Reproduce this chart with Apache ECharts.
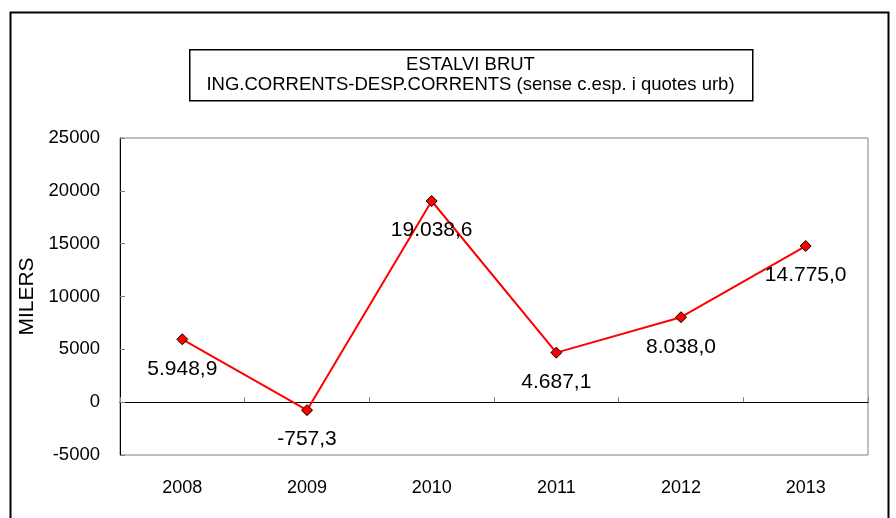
<!DOCTYPE html>
<html><head><meta charset="utf-8">
<script src="https://cdn.jsdelivr.net/npm/echarts@6/dist/echarts.min.js"></script>
<style>html,body{margin:0;padding:0;background:#fff}#c{width:896px;height:518px}</style>
</head><body><div id="c"></div>
<script>
var categories = ['2008','2009','2010','2011','2012','2013'];
var values = [5948.9, -757.3, 19038.6, 4687.1, 8038.0, 14775.0];
var yTicks = [-5000, 0, 5000, 10000, 15000, 20000, 25000];
var titleLines = ['ESTALVI BRUT', 'ING.CORRENTS-DESP.CORRENTS (sense c.esp. i quotes urb)'];
var yName = 'MILERS';

function fmt(v){
  var neg = v < 0; v = Math.abs(v);
  var s = v.toFixed(1).split('.');
  var ip = s[0].replace(/\B(?=(\d{3})+(?!\d))/g, '.');
  return (neg ? '-' : '') + ip + ',' + s[1];
}
var FONT = 'Liberation Sans, Arial, sans-serif';
var chart = echarts.init(document.getElementById('c'));
chart.setOption({
  animation: false,
  backgroundColor: '#fff',
  graphic: [{
    type: 'rect', left: 8, top: 10, shape: { width: 878, height: 530 },
    style: { fill: 'none', stroke: '#000', lineWidth: 2 }, z: 0
  }, {
    type: 'rect', left: 189, top: 49, shape: { width: 563, height: 51 },
    style: { fill: '#fff', stroke: '#000', lineWidth: 1.5 }, z: 1
  }, {
    type: 'text', x: 470.5, y: 74.5, z: 2,
    style: {
      text: titleLines.join('\n'), align: 'center', verticalAlign: 'middle',
      font: '18.5px ' + FONT, lineHeight: 20, fill: '#000'
    }
  }],
  grid: { left: 120, top: 138, right: 28, bottom: 63, show: true, borderColor: '#808080', borderWidth: 1, backgroundColor: 'transparent' },
  xAxis: [{
    type: 'category', data: categories, position: 'bottom',
    axisLine: { show: false, onZero: false },
    axisTick: { show: false },
    axisLabel: { margin: 24, fontFamily: FONT, fontSize: 18, color: '#000' }
  }, {
    type: 'category', data: categories, position: 'bottom',
    axisLine: { show: true, onZero: true, lineStyle: { color: '#000', width: 1 } },
    axisTick: { show: true, inside: true, length: 5, lineStyle: { color: '#808080' } },
    axisLabel: { show: false }
  }],
  yAxis: {
    type: 'value', min: yTicks[0], max: yTicks[yTicks.length - 1], interval: 5000,
    name: yName, nameLocation: 'middle', nameGap: 80, nameRotate: 90,
    nameTextStyle: { fontFamily: FONT, fontSize: 21, color: '#000' },
    axisLine: { show: true, lineStyle: { color: '#000' } },
    axisTick: { show: true, inside: true, length: 5, lineStyle: { color: '#808080' } },
    splitLine: { show: false },
    axisLabel: { margin: 20, fontFamily: FONT, fontSize: 18.5, color: '#000', formatter: function(v){ return String(v); } }
  },
  series: [{
    type: 'line', data: values, xAxisIndex: 0,
    symbol: 'diamond', symbolSize: 11,
    lineStyle: { color: '#ff0000', width: 2 },
    itemStyle: { color: '#ff0000', borderColor: '#000', borderWidth: 1 },
    label: {
      show: true, position: 'bottom', distance: 13,
      formatter: function(p){ return fmt(p.value); },
      fontFamily: FONT, fontSize: 21, color: '#000'
    }
  }]
});
</script></body></html>
